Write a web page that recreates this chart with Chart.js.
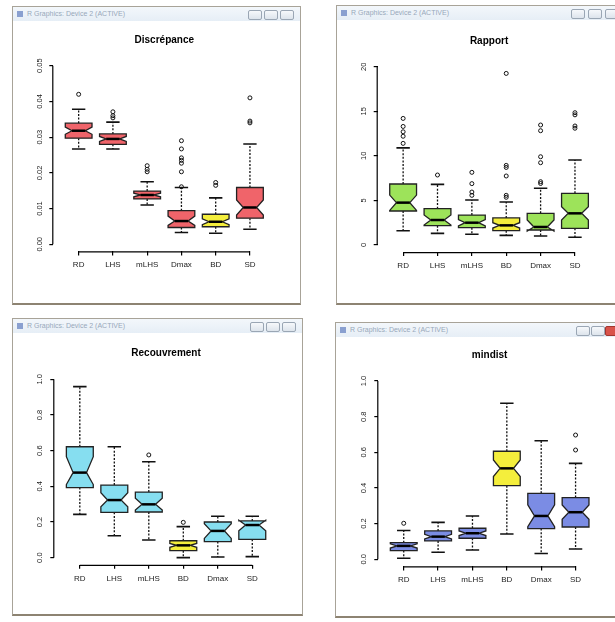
<!DOCTYPE html>
<html>
<head>
<meta charset="utf-8">
<script src="https://cdn.jsdelivr.net/npm/chart.js@4/dist/chart.umd.min.js"></script>
<style>
    body { margin: 0; width: 615px; height: 622px; background: #fff; position: relative; overflow: hidden;
           font-family: "Liberation Sans", Arial, sans-serif; }
    .win { position: absolute; background: #fff; border: 1px solid #a8a398; border-bottom: 2px solid #8d8372; }
    .bar { position: absolute; left: 0; right: 0; top: 0; height: 14px;
           background: linear-gradient(#f3f7fb, #e6eef6); }
    .bar span { position: absolute; left: 14px; top: 3px; font-size: 7px; color: #98a8ba; white-space: nowrap; }
    .bar i { position: absolute; left: 4px; top: 4px; width: 6px; height: 6px; background: #8aa0d0; }
    .btn { position: absolute; top: 3px; width: 12px; height: 8px; border: 1px solid #9aa6b4;
           background: linear-gradient(#f6f8fb, #dde4ec); border-radius: 2px; }
    .btn.close { background: #d9534a; border-color: #a0362f; }
    canvas { position: absolute; }
</style>
</head>
<body>
<div class="win" style="left:12px;top:6px;width:287px;height:296px">
    <div class="bar"><i></i><span>R Graphics: Device 2 (ACTIVE)</span></div>
    <div class="btn" style="left:235px"></div><div class="btn" style="left:251px"></div><div class="btn" style="left:267px"></div>
</div>
<div class="win" style="left:336px;top:5px;width:290px;height:297px">
    <div class="bar"><i></i><span>R Graphics: Device 2 (ACTIVE)</span></div>
    <div class="btn" style="left:234px"></div><div class="btn" style="left:251px"></div><div class="btn" style="left:268px"></div>
</div>
<div class="win" style="left:12px;top:318px;width:289px;height:295px">
    <div class="bar"><i></i><span>R Graphics: Device 2 (ACTIVE)</span></div>
    <div class="btn" style="left:237px"></div><div class="btn" style="left:253px"></div><div class="btn" style="left:269px"></div>
</div>
<div class="win" style="left:335px;top:322px;width:290px;height:293px">
    <div class="bar"><i></i><span>R Graphics: Device 2 (ACTIVE)</span></div>
    <div class="btn" style="left:240px"></div><div class="btn" style="left:255px"></div><div class="btn close" style="left:269px"></div>
</div>

<canvas id="disc" width="285" height="280" style="left:13px;top:21px"></canvas>
<canvas id="rapp" width="277" height="280" style="left:338px;top:21px"></canvas>
<canvas id="reco" width="288" height="280" style="left:13px;top:333px"></canvas>
<canvas id="mind" width="279" height="280" style="left:336px;top:336px"></canvas>

<script>
// Discrépance
const discCats = ['RD', 'LHS', 'mLHS', 'Dmax', 'BD', 'SD'];
const discWhiskLo = [0.0267, 0.0267, 0.0110, 0.0033, 0.0031, 0.0042];
const discQ1 = [0.0297, 0.0280, 0.0127, 0.0047, 0.0049, 0.0073];
const discNotchLo = [0.0308, 0.0288, 0.0133, 0.0053, 0.0055, 0.0082];
const discMedian = [0.0318, 0.0295, 0.0138, 0.0065, 0.0063, 0.0103];
const discNotchHi = [0.0328, 0.0302, 0.0143, 0.0079, 0.0071, 0.0124];
const discQ3 = [0.0339, 0.0309, 0.0149, 0.0094, 0.0084, 0.0159];
const discWhiskHi = [0.0378, 0.0342, 0.0175, 0.0159, 0.0130, 0.0281];
const discOutliers = [[0.0420], [0.0371, 0.0360, 0.0354], [0.0220, 0.0210, 0.0203],
    [0.0290, 0.0267, 0.0242, 0.0235, 0.0227, 0.0203, 0.0161], [0.0173, 0.0165], [0.0410, 0.0345, 0.0340]];
const discTicks = [0, 0.01, 0.02, 0.03, 0.04, 0.05];
const discTickLabels = ['0.00', '0.01', '0.02', '0.03', '0.04', '0.05'];

// Rapport
const rappCats = ['RD', 'LHS', 'mLHS', 'BD', 'Dmax', 'SD'];
const rappWhiskLo = [1.6, 1.3, 1.2, 1.08, 1.0, 0.86];
const rappQ1 = [3.81, 2.17, 1.94, 1.6, 1.68, 1.87];
const rappNotchLo = [3.88, 2.24, 2.15, 1.9, 1.55, 2.8];
const rappMedian = [4.75, 2.8, 2.5, 2.2, 2.02, 3.55];
const rappNotchHi = [5.6, 3.36, 2.85, 2.5, 2.8, 4.3];
const rappQ3 = [6.84, 4.07, 3.36, 3.03, 3.55, 5.79];
const rappWhiskHi = [10.9, 6.8, 5.05, 4.82, 6.36, 9.53];
const rappOutliers = [[14.2, 13.3, 12.7, 12.2, 11.4], [7.85], [8.15, 6.88, 5.94, 5.57],
    [19.25, 8.93, 8.7, 7.74, 5.57, 5.35], [13.46, 12.82, 9.9, 9.23, 7.1, 6.9], [14.84, 14.6, 13.35, 13.1]];
const rappTicks = [0, 5, 10, 15, 20];
const rappTickLabels = ['0', '5', '10', '15', '20'];

// Recouvrement
const recoCats = ['RD', 'LHS', 'mLHS', 'BD', 'Dmax', 'SD'];
const recoWhiskLo = [0.243, 0.123, 0.099, 0.0, 0.004, 0.006];
const recoQ1 = [0.393, 0.254, 0.256, 0.039, 0.09, 0.103];
const recoNotchLo = [0.41, 0.286, 0.267, 0.058, 0.108, 0.151];
const recoMedian = [0.477, 0.323, 0.299, 0.069, 0.15, 0.183];
const recoNotchHi = [0.566, 0.364, 0.333, 0.08, 0.19, 0.21];
const recoQ3 = [0.622, 0.407, 0.368, 0.095, 0.2, 0.206];
const recoWhiskHi = [0.959, 0.622, 0.538, 0.174, 0.232, 0.232];
const recoOutliers = [[], [], [0.576], [0.198], [], []];
const recoTicks = [0, 0.2, 0.4, 0.6, 0.8, 1.0];
const recoTickLabels = ['0.0', '0.2', '0.4', '0.6', '0.8', '1.0'];

// mindist
const mindCats = ['RD', 'LHS', 'mLHS', 'BD', 'Dmax', 'SD'];
const mindWhiskLo = [0.006, 0.039, 0.052, 0.142, 0.032, 0.058];
const mindQ1 = [0.049, 0.103, 0.118, 0.413, 0.172, 0.181];
const mindNotchLo = [0.063, 0.114, 0.133, 0.464, 0.183, 0.224];
const mindMedian = [0.075, 0.127, 0.146, 0.51, 0.243, 0.264];
const mindNotchHi = [0.087, 0.14, 0.159, 0.557, 0.305, 0.305];
const mindQ3 = [0.093, 0.159, 0.174, 0.606, 0.37, 0.346];
const mindWhiskHi = [0.161, 0.207, 0.243, 0.875, 0.665, 0.538];
const mindOutliers = [[0.202], [], [], [], [], [0.697, 0.613]];
const mindTicks = [0, 0.2, 0.4, 0.6, 0.8, 1.0];
const mindTickLabels = ['0.0', '0.2', '0.4', '0.6', '0.8', '1.0'];

const FONT = '"Liberation Sans", Arial, sans-serif';
const HIGHLIGHT = '#f4ee3c';   // BD boxes

/**
 * Draws notched R-style boxes plus the short R axis lines
 */
function makeBoxPlugin(stats, cats, fill) {
    return {
        id: 'notchedBoxes',
        beforeDatasetsDraw(chart) {
            const { ctx, scales: { x, y } } = chart;
            const hw = (x.getPixelForValue(2) - x.getPixelForValue(1)) * 0.39;
            const py = v => y.getPixelForValue(v);

            cats.forEach((cat, i) => {
                const cx = x.getPixelForValue(i + 1);
                ctx.save();

                // dashed whiskers
                ctx.strokeStyle = '#111';
                ctx.lineWidth = 1.3;
                ctx.setLineDash([2, 1.6]);
                ctx.beginPath();
                ctx.moveTo(cx, py(stats.q3[i])); ctx.lineTo(cx, py(stats.hi[i]));
                ctx.moveTo(cx, py(stats.q1[i])); ctx.lineTo(cx, py(stats.lo[i]));
                ctx.stroke();

                // staples
                ctx.setLineDash([]);
                ctx.lineWidth = 1.6;
                ctx.beginPath();
                ctx.moveTo(cx - hw / 2, py(stats.hi[i])); ctx.lineTo(cx + hw / 2, py(stats.hi[i]));
                ctx.moveTo(cx - hw / 2, py(stats.lo[i])); ctx.lineTo(cx + hw / 2, py(stats.lo[i]));
                ctx.stroke();

                // notched box
                const pts = [
                    [cx - hw, stats.q1[i]], [cx + hw, stats.q1[i]], [cx + hw, stats.nlo[i]],
                    [cx + hw / 2, stats.med[i]], [cx + hw, stats.nhi[i]], [cx + hw, stats.q3[i]],
                    [cx - hw, stats.q3[i]], [cx - hw, stats.nhi[i]], [cx - hw / 2, stats.med[i]],
                    [cx - hw, stats.nlo[i]]
                ];
                ctx.beginPath();
                pts.forEach(([px, v], k) => k ? ctx.lineTo(px, py(v)) : ctx.moveTo(px, py(v)));
                ctx.closePath();
                ctx.fillStyle = cat === 'BD' ? HIGHLIGHT : fill;
                ctx.fill();
                ctx.lineWidth = 1.3;
                ctx.strokeStyle = '#222';
                ctx.stroke();

                // median
                ctx.lineWidth = 2.5;
                ctx.strokeStyle = '#000';
                ctx.beginPath();
                ctx.moveTo(cx - hw / 2, py(stats.med[i]));
                ctx.lineTo(cx + hw / 2, py(stats.med[i]));
                ctx.stroke();
                ctx.restore();
            });
        },
        afterDraw(chart) {
            const { ctx, chartArea: a, scales: { x, y } } = chart;
            const yt = y.ticks;
            ctx.save();
            ctx.strokeStyle = '#000';
            ctx.lineWidth = 1.2;
            ctx.beginPath();
            ctx.moveTo(x.getPixelForValue(1), a.bottom + 0.5);
            ctx.lineTo(x.getPixelForValue(cats.length), a.bottom + 0.5);
            ctx.moveTo(a.left - 0.5, y.getPixelForValue(yt[0].value));
            ctx.lineTo(a.left - 0.5, y.getPixelForValue(yt[yt.length - 1].value));
            ctx.stroke();
            ctx.restore();
        }
    };
}

function renderBoxChart(canvasId, title, cats, stats, outliers, yTicks, yLabels, fill, lay) {
    const ctx = document.getElementById(canvasId);
    const span = yTicks[yTicks.length - 1] - yTicks[0];
    const points = outliers.flatMap((list, i) => list.map(v => ({ x: i + 1, y: v })));

    return new Chart(ctx.getContext('2d'), {
        type: 'scatter',
        data: {
            datasets: [{
                data: points,
                pointRadius: 2,
                pointBorderWidth: 1,
                pointBorderColor: '#111',
                pointBackgroundColor: 'rgba(0,0,0,0)'
            }]
        },
        options: {
            responsive: false,
            animation: false,
            layout: { padding: { left: 0, right: lay.right, top: 0, bottom: 0 } },
            plugins: {
                legend: { display: false },
                tooltip: { enabled: false },
                title: {
                    display: true,
                    text: title,
                    fullSize: false,
                    color: '#000',
                    font: { family: FONT, size: 10, weight: 'bold' },
                    padding: { top: lay.titleY - 6, bottom: lay.top - lay.titleY - 6 }
                }
            },
            scales: {
                x: {
                    type: 'linear',
                    min: 0.5 - 0.04 * cats.length,
                    max: cats.length + 0.5 + 0.04 * cats.length,
                    afterBuildTicks: s => { s.ticks = cats.map((c, i) => ({ value: i + 1 })); },
                    afterFit: s => { s.height = lay.bottom; },
                    ticks: {
                        autoSkip: false, maxRotation: 0, padding: 5,
                        color: '#222', font: { family: FONT, size: 8 },
                        callback: v => cats[v - 1]
                    },
                    grid: { drawOnChartArea: false, drawTicks: true, tickLength: 4, lineWidth: 1.2, color: '#000' },
                    border: { display: false }
                },
                y: {
                    min: yTicks[0] - 0.04 * span,
                    max: yTicks[yTicks.length - 1] + 0.04 * span,
                    afterBuildTicks: s => { s.ticks = yTicks.map(v => ({ value: v })); },
                    afterFit: s => { s.width = lay.left; },
                    ticks: {
                        minRotation: 90, maxRotation: 90, crossAlign: 'center', padding: lay.yPad,
                        color: '#222', font: { family: FONT, size: 7.5 },
                        callback: (v, i) => yLabels[i]
                    },
                    grid: { drawOnChartArea: false, drawTicks: true, tickLength: 4, lineWidth: 1.2, color: '#000' },
                    border: { display: false }
                }
            }
        },
        plugins: [makeBoxPlugin(stats, cats, fill)]
    });
}

renderBoxChart('disc', 'Discrépance', discCats,
    { lo: discWhiskLo, q1: discQ1, nlo: discNotchLo, med: discMedian, nhi: discNotchHi, q3: discQ3, hi: discWhiskHi },
    discOutliers, discTicks, discTickLabels, '#f0646a',
    { left: 40.3, top: 37.6, right: 22.7, bottom: 49.6, titleY: 19, yPad: 1.7 });

renderBoxChart('rapp', 'Rapport', rappCats,
    { lo: rappWhiskLo, q1: rappQ1, nlo: rappNotchLo, med: rappMedian, nhi: rappNotchHi, q3: rappQ3, hi: rappWhiskHi },
    rappOutliers, rappTicks, rappTickLabels, '#9de35a',
    { left: 39.7, top: 38.6, right: 14.6, bottom: 48.9, titleY: 20, yPad: 5.2 });

renderBoxChart('reco', 'Recouvrement', recoCats,
    { lo: recoWhiskLo, q1: recoQ1, nlo: recoNotchLo, med: recoMedian, nhi: recoNotchHi, q3: recoQ3, hi: recoWhiskHi },
    recoOutliers, recoTicks, recoTickLabels, '#86def0',
    { left: 41.3, top: 39.2, right: 23.2, bottom: 48.2, titleY: 20.3, yPad: 5.1 });

renderBoxChart('mind', 'mindist', mindCats,
    { lo: mindWhiskLo, q1: mindQ1, nlo: mindNotchLo, med: mindMedian, nhi: mindNotchHi, q3: mindQ3, hi: mindWhiskHi },
    mindOutliers, mindTicks, mindTickLabels, '#7b8ce4',
    { left: 42.3, top: 37.9, right: 14, bottom: 49.6, titleY: 19.7, yPad: 4.8 });
</script>
</body>
</html>
